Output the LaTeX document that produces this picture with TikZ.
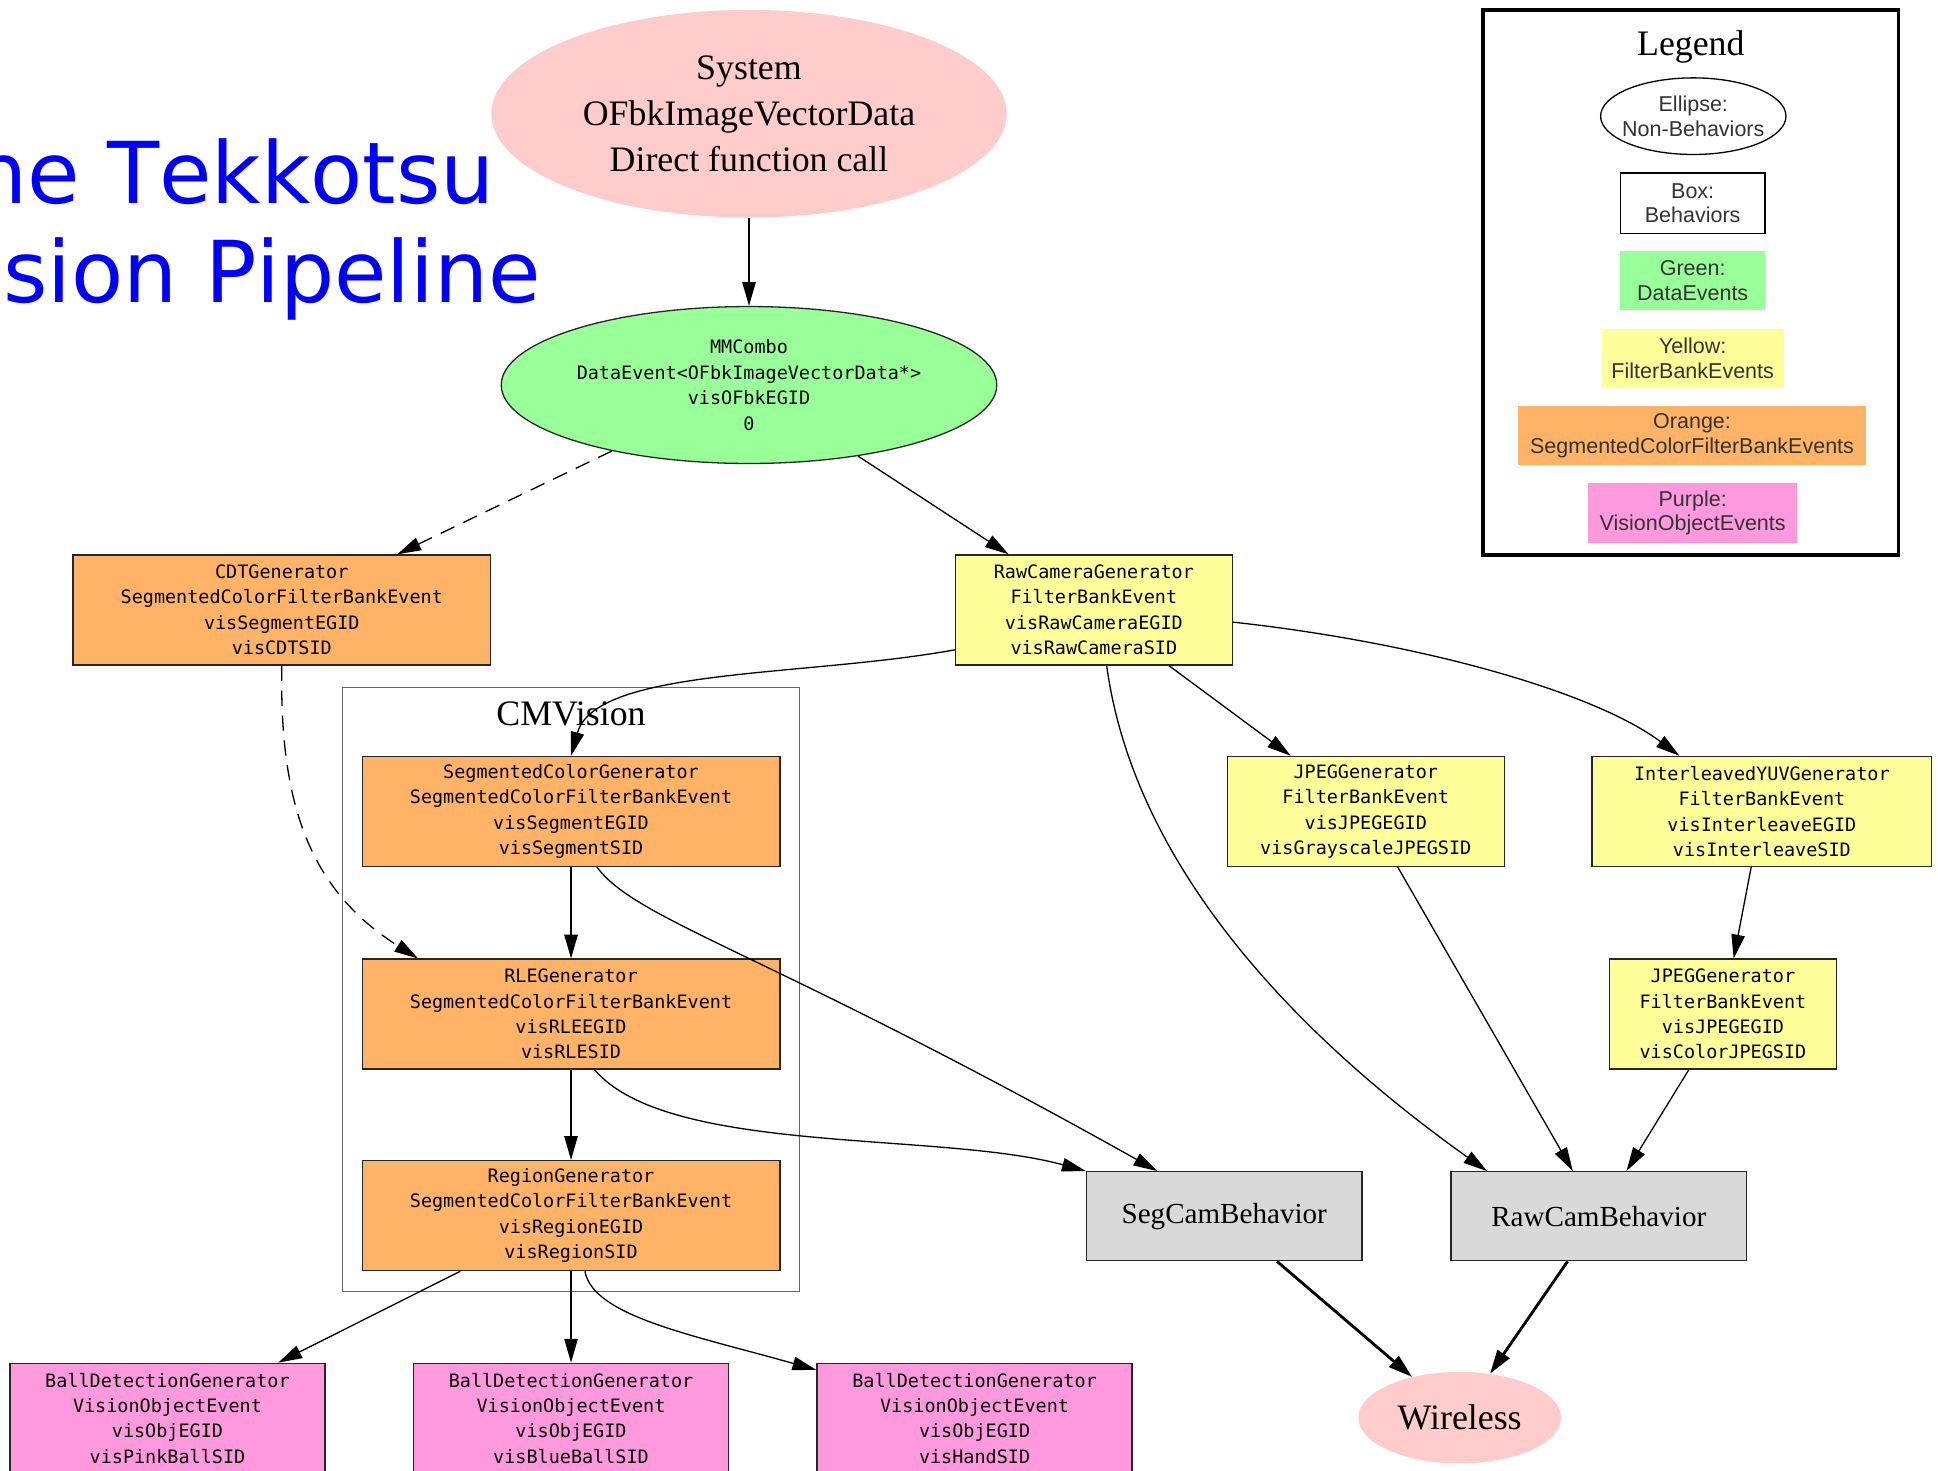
\documentclass[tikz,border=0pt]{standalone}
\usepackage{fontspec}
\setmainfont{Liberation Serif}
\newfontfamily\monofont{DejaVu Sans Mono}
\newfontfamily\slidefont{DejaVu Sans}[Kerning=Off]
\newfontfamily\keyfont{Liberation Sans}
\usetikzlibrary{shapes.geometric,arrows,arrows.meta}

\definecolor{sysPink}{HTML}{FFCCCC}
\definecolor{dataGreen}{HTML}{99FF99}
\definecolor{fbYellow}{HTML}{FFFF99}
\definecolor{segOrange}{HTML}{FFB366}
\definecolor{visPurple}{HTML}{FF99DD}
\definecolor{behavGray}{HTML}{D9D9D9}
\definecolor{slideBlue}{HTML}{0000FF}

\begin{document}
\begin{tikzpicture}[x=0.02cm, y=-0.02cm]
	\useasboundingbox (0, 0) rectangle (1568, 1190);
	\clip (0, 0) rectangle (1568, 1190);
	\begin{scope}
		\tikzstyle{every node}=[align=center, inner sep=0pt]
		\tikzstyle{times}=[font=\fontsize{16.5}{21}\selectfont]
		\tikzstyle{gen}=[draw=black!85, line width=0.6pt, minimum height=1.78cm, font=\monofont\fontsize{8.5}{11.7}\selectfont]
		\tikzstyle{segbox}=[gen, fill=segOrange, minimum width=6.76cm]
		\tikzstyle{fbbox}=[gen, fill=fbYellow]
		\tikzstyle{objbox}=[gen, fill=visPurple, minimum width=5.1cm]
		\tikzstyle{behav}=[draw=black!85, line width=0.6pt, fill=behavGray, minimum height=1.44cm, font=\fontsize{13.4}{16}\selectfont]
		\tikzstyle{keyitem}=[minimum width=2.34cm, minimum height=0.96cm, font=\keyfont\fontsize{9.9}{11.4}\selectfont, text=black!80]
		\tikzstyle{link}=[->, >={Triangle[length=11pt, width=6.2pt]}, line width=0.6pt]
		\tikzstyle{wlink}=[->, >={Triangle[length=11pt, width=6.6pt]}, line width=1.3pt]
		\tikzstyle{dlink}=[link, dash pattern=on 7pt off 4.5pt]

		% title
		\node[anchor=base west, text=slideBlue, font=\slidefont\fontsize{39.3}{45}\selectfont] (title1) at (-64, 165) {The Tekkotsu};
		\node[anchor=base west, text=slideBlue, font=\slidefont\fontsize{39.3}{45}\selectfont] (title2) at (-64, 245) {Vision Pipeline};

		\node[times, ellipse, fill=sysPink, minimum width=8.34cm, minimum height=3.36cm] (sys) at (606, 92) {System\\OFbkImageVectorData\\Direct function call};
		\node[gen, ellipse, fill=dataGreen, minimum width=8.02cm, minimum height=2.54cm] (mm) at (606, 311.5) {MMCombo\\DataEvent<OFbkImageVectorData*>\\visOFbkEGID\\0};

		\node[segbox] (cdt) at (228, 493.5) {CDTGenerator\\SegmentedColorFilterBankEvent\\visSegmentEGID\\visCDTSID};
		\node[fbbox, minimum width=4.48cm] (raw) at (885, 493.5) {RawCameraGenerator\\FilterBankEvent\\visRawCameraEGID\\visRawCameraSID};

		% CMVision cluster
		\draw[black!60, line width=0.6pt] (277, 556) rectangle (647, 1045);
		\node[times, anchor=base] (cmv) at (462, 587) {CMVision};
		\node[segbox] (seg) at (462, 656.5) {SegmentedColorGenerator\\SegmentedColorFilterBankEvent\\visSegmentEGID\\visSegmentSID};
		\node[segbox] (rle) at (462, 820.5) {RLEGenerator\\SegmentedColorFilterBankEvent\\visRLEEGID\\visRLESID};
		\node[segbox] (region) at (462, 983.5) {RegionGenerator\\SegmentedColorFilterBankEvent\\visRegionEGID\\visRegionSID};

		\node[fbbox, minimum width=4.48cm] (jpegg) at (1105, 656.5) {JPEGGenerator\\FilterBankEvent\\visJPEGEGID\\visGrayscaleJPEGSID};
		\node[fbbox, minimum width=5.5cm] (ileave) at (1425.5, 656.5) {InterleavedYUVGenerator\\FilterBankEvent\\visInterleaveEGID\\visInterleaveSID};
		\node[fbbox, minimum width=3.68cm] (jpegc) at (1394, 820.5) {JPEGGenerator\\FilterBankEvent\\visJPEGEGID\\visColorJPEGSID};

		\node[behav, minimum width=4.46cm] (segcam) at (990.5, 984) {SegCamBehavior};
		\node[behav, minimum width=4.78cm] (rawcam) at (1293.5, 984) {RawCamBehavior};
		\node[times, ellipse, fill=sysPink, minimum width=3.28cm, minimum height=1.48cm] (wireless) at (1181, 1147) {Wireless};

		\node[objbox] (ball1) at (135.5, 1147.5) {BallDetectionGenerator\\VisionObjectEvent\\visObjEGID\\visPinkBallSID};
		\node[objbox] (ball2) at (462, 1147.5) {BallDetectionGenerator\\VisionObjectEvent\\visObjEGID\\visBlueBallSID};
		\node[objbox] (ball3) at (788.5, 1147.5) {BallDetectionGenerator\\VisionObjectEvent\\visObjEGID\\visHandSID};

		% connectors
		\draw [link] (sys) to (mm);
		\draw [dlink] (mm) to (cdt);
		\draw [link] (mm) to (raw);
		\draw [link] (raw.196) .. controls (650, 548) and (482, 540) .. (seg.north);
		\draw [dlink] (cdt.south) .. controls (226, 650) and (250, 720) .. (rle.160);
		\draw [link] (seg) to (rle);
		\draw [link] (seg.295) .. controls (515, 745) and (620, 770) .. (segcam.146);
		\draw [link] (rle) to (region);
		\draw [link] (rle.293) .. controls (540, 935) and (760, 915) .. (segcam.north west);
		\draw [link] (region) to (ball1);
		\draw [link] (region) to (ball2);
		\draw [link] (region.284) .. controls (480, 1065) and (560, 1080) .. (ball3.163);
		\draw [link] (raw) to (jpegg);
		\draw [link] (raw.355) .. controls (1150, 520) and (1290, 560) .. (ileave.146);
		\draw [link] (raw.283) .. controls (920, 720) and (1080, 860) .. (rawcam.158);
		\draw [link] (jpegg) to (rawcam);
		\draw [link] (ileave) to (jpegc);
		\draw [link] (jpegc) to (rawcam);
		\draw [wlink] (segcam) to (wireless);
		\draw [wlink] (rawcam) to (wireless);

		% legend
		\draw[line width=1.7pt] (1200, 8) rectangle (1536, 449);
		\node[times, anchor=base] (legend) at (1368, 45) {Legend};
		\node[ellipse, draw, line width=0.6pt, minimum width=3cm, minimum height=1.24cm,
			label={[keyitem]center:Ellipse:\\Non-Behaviors}] (keyell) at (1370, 94) {};
		\node[keyitem, draw, line width=0.6pt, minimum height=0.98cm] (keybox) at (1369.5, 164.5) {Box:\\Behaviors};
		\node[keyitem, fill=dataGreen] (keygreen) at (1369.5, 227) {Green:\\DataEvents};
		\node[keyitem, fill=fbYellow, minimum width=2.94cm] (keyyellow) at (1369.5, 290) {Yellow:\\FilterBankEvents};
		\node[keyitem, fill=segOrange, minimum width=5.64cm] (keyorange) at (1369, 352.5) {Orange:\\SegmentedColorFilterBankEvents};
		\node[keyitem, fill=visPurple, minimum width=3.38cm] (keypurple) at (1369.5, 415) {Purple:\\VisionObjectEvents};
	\end{scope}
\end{tikzpicture}
\end{document}
